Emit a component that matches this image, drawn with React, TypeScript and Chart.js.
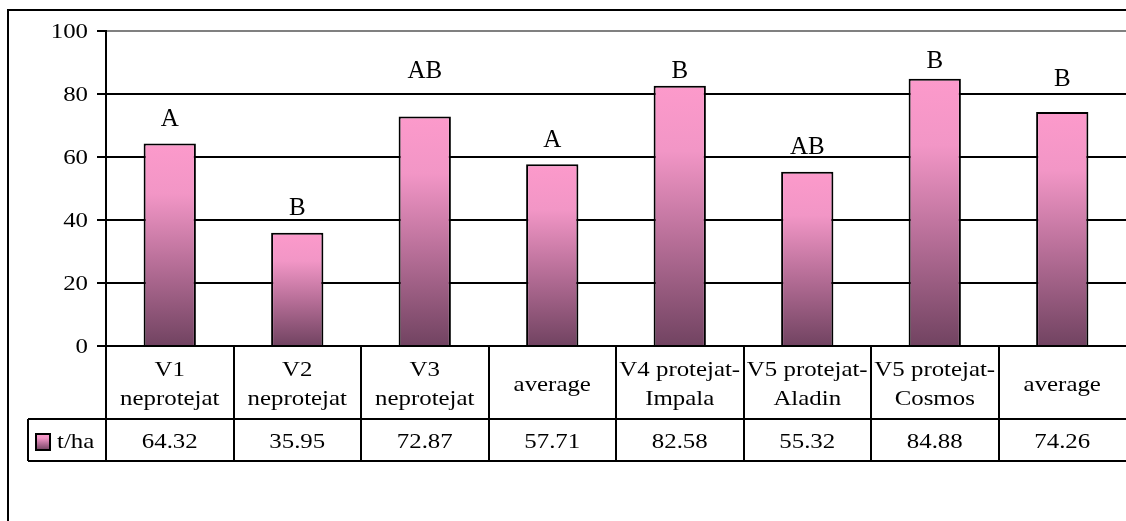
import { useEffect, useRef } from 'react';
import { Chart, registerables } from 'chart.js';

Chart.register(...registerables);

const categories: string[][] = [
  ['V1', 'neprotejat'],
  ['V2', 'neprotejat'],
  ['V3', 'neprotejat'],
  ['average'],
  ['V4 protejat-', 'Impala'],
  ['V5 protejat-', 'Aladin'],
  ['V5 protejat-', 'Cosmos'],
  ['average'],
];
const seriesName = 't/ha';
const values = [64.32, 35.95, 72.87, 57.71, 82.58, 55.32, 84.88, 74.26];
const letters = ['A', 'B', 'AB', 'A', 'B', 'AB', 'B', 'B'];
const letterLevels = [72.4, 44.4, 87.9, 66.0, 87.9, 63.8, 90.8, 85.1];
const yMin = 0;
const yMax = 100;
const yStep = 20;

const FONT = '"Liberation Serif", "Times New Roman", serif';
const STRETCH = 1.13;

function makeGradient(ctx: CanvasRenderingContext2D, top: number, bottom: number) {
  const g = ctx.createLinearGradient(0, top, 0, bottom);
  g.addColorStop(0, '#FC9ACB');
  g.addColorStop(0.25, '#F296C6');
  g.addColorStop(0.6, '#B66E97');
  g.addColorStop(1, '#714361');
  return g;
}

function stretchText(ctx: CanvasRenderingContext2D, text: string, x: number, y: number, align: CanvasTextAlign) {
  ctx.save();
  ctx.translate(x, y);
  ctx.scale(STRETCH, 1);
  ctx.textAlign = align;
  ctx.textBaseline = 'alphabetic';
  ctx.fillText(text, 0, 0);
  ctx.restore();
}

const tablePlugin = {
  id: 'tablePlugin',
  afterDraw(chart: any) {
    const ctx: CanvasRenderingContext2D = chart.ctx;
    const xs = chart.scales.x;
    const ys = chart.scales.y;
    const area = chart.chartArea;
    const n = values.length;
    const cw = (area.right - area.left) / n;
    const row1Top = ys.getPixelForValue(0);
    const row1Bottom = row1Top + 73;
    const row2Bottom = row1Bottom + 42;
    const legendLeft = 28;

    ctx.save();
    ctx.fillStyle = '#000';
    ctx.font = `22px ${FONT}`;
    ys.ticks.forEach((t: any) => {
      const py = ys.getPixelForValue(t.value);
      stretchText(ctx, String(t.value), area.left - 18, py + 7, 'right');
    });

    ctx.font = `25px ${FONT}`;
    ctx.textAlign = 'center';
    ctx.textBaseline = 'alphabetic';
    letters.forEach((l, i) => {
      const px = xs.getPixelForValue(i);
      const py = ys.getPixelForValue(letterLevels[i]);
      ctx.fillText(l, px, py + 8.5);
    });

    ctx.strokeStyle = '#000';
    ctx.lineWidth = 2;
    ctx.beginPath();
    ctx.moveTo(legendLeft, row1Bottom);
    ctx.lineTo(area.right + 10, row1Bottom);
    ctx.moveTo(legendLeft, row2Bottom);
    ctx.lineTo(area.right + 10, row2Bottom);
    ctx.moveTo(legendLeft, row1Bottom);
    ctx.lineTo(legendLeft, row2Bottom);
    for (let i = 0; i < n; i++) {
      const bx = Math.round(area.left + i * cw);
      ctx.moveTo(bx, row1Top);
      ctx.lineTo(bx, row2Bottom);
    }
    ctx.stroke();

    ctx.font = `22px ${FONT}`;
    const c1 = (row1Top + row1Bottom) / 2;
    categories.forEach((lines, i) => {
      const px = xs.getPixelForValue(i);
      lines.forEach((ln, j) => {
        const by = c1 + (j - (lines.length - 1) / 2) * 29 + 8;
        stretchText(ctx, ln, px, by, 'center');
      });
    });

    const c2 = (row1Bottom + row2Bottom) / 2;
    values.forEach((v, i) => {
      const px = xs.getPixelForValue(i);
      stretchText(ctx, v.toFixed(2), px, c2 + 8, 'center');
    });

    const kx = 36, ky = c2 - 6, kw = 14, kh = 16;
    ctx.fillStyle = makeGradient(ctx, ky, ky + kh);
    ctx.fillRect(kx, ky, kw, kh);
    ctx.strokeStyle = '#000';
    ctx.lineWidth = 2;
    ctx.strokeRect(kx, ky, kw, kh);
    ctx.fillStyle = '#000';
    stretchText(ctx, seriesName, 57, c2 + 8, 'left');

    ctx.lineWidth = 2;
    ctx.strokeRect(8, 10, 1200, 600);
    ctx.restore();
  },
};

export default function App() {
  const ref = useRef<HTMLCanvasElement | null>(null);

  useEffect(() => {
    if (!ref.current) return;
    const chart = new Chart(ref.current, {
      type: 'bar',
      data: {
        labels: categories,
        datasets: [
          {
            label: seriesName,
            data: values,
            borderColor: '#000',
            borderWidth: 2,
            categoryPercentage: 1,
            barPercentage: 0.41,
            backgroundColor: (c: any) => {
              const chart = c.chart;
              if (!chart.chartArea || c.raw == null) return '#F99BCB';
              const ys = chart.scales.y;
              return makeGradient(chart.ctx, ys.getPixelForValue(c.raw), ys.getPixelForValue(0));
            },
          } as any,
        ],
      },
      options: {
        responsive: false,
        animation: false,
        devicePixelRatio: 1,
        layout: { padding: { left: 0, top: 31, right: 0, bottom: 175 } },
        plugins: { legend: { display: false }, tooltip: { enabled: false } },
        scales: {
          x: { display: false },
          y: {
            min: yMin,
            max: yMax,
            afterFit: (s: any) => {
              s.width = 106;
            },
            ticks: { stepSize: yStep, display: false },
            grid: {
              color: (c: any) => (c.tick && c.tick.value === yMax ? '#808080' : '#000'),
              lineWidth: 2,
              drawTicks: true,
              tickLength: 9,
              tickColor: '#000',
            },
            border: { display: true, color: '#000', width: 2 },
          },
        },
      },
      plugins: [tablePlugin],
    });
    return () => chart.destroy();
  }, []);

  return (
    <div style={{ position: 'absolute', left: 0, top: 0, width: 1126, height: 521, background: '#fff' }}>
      <canvas ref={ref} width={1126} height={521} style={{ display: 'block' }} />
    </div>
  );
}
